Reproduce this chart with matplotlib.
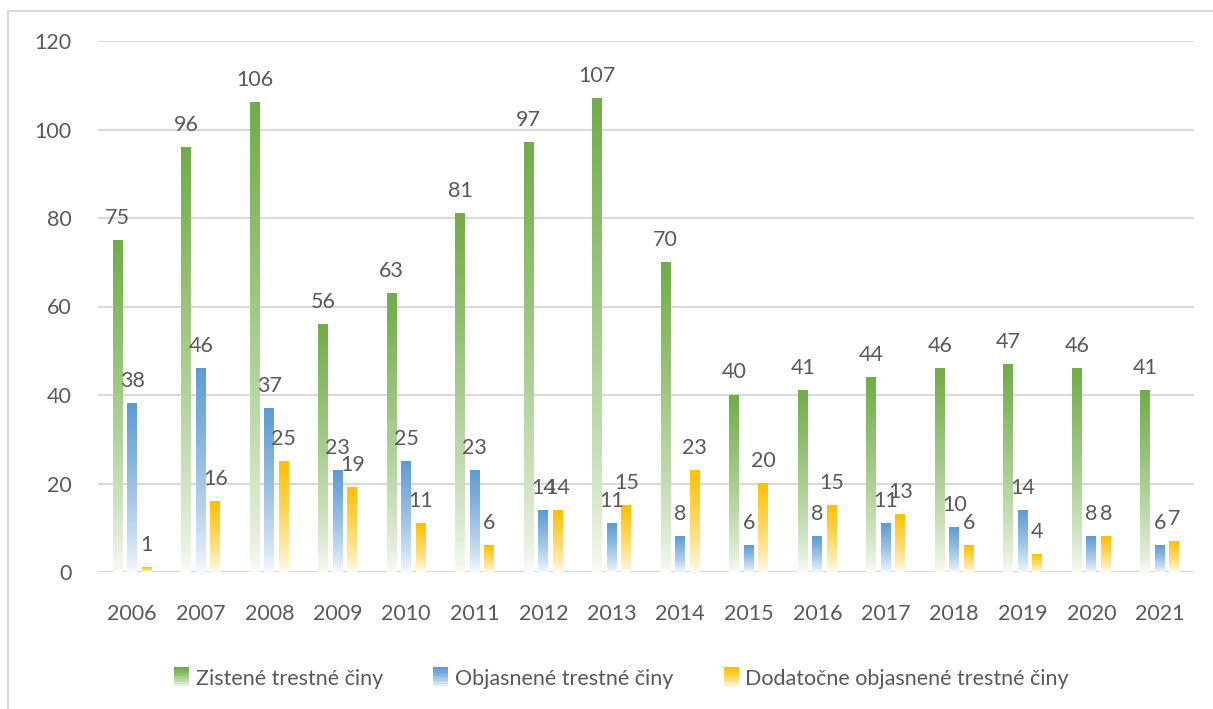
import numpy as np
import matplotlib
matplotlib.use("Agg")
import matplotlib.pyplot as plt
from matplotlib.patches import Rectangle
from matplotlib.legend_handler import HandlerBase
from matplotlib.colors import to_rgb

years = [str(y) for y in range(2006, 2022)]
zistene = [75, 96, 106, 56, 63, 81, 97, 107, 70, 40, 41, 44, 46, 47, 46, 41]
objasnene = [38, 46, 37, 23, 25, 23, 14, 11, 8, 6, 8, 11, 10, 14, 8, 6]
dodatocne = [1, 16, 25, 19, 11, 6, 14, 15, 23, 20, 15, 13, 6, 4, 8, 7]
labels = ["Zistené trestné činy", "Objasnené trestné činy",
          "Dodatočne objasnené trestné činy"]
colors = ["#70AD47", "#5B9BD5", "#FFC000"]

plt.rcParams['font.family'] = ['Lato', 'DejaVu Sans']
TXT = "#595959"
W, H = 1213, 709
FS = 15.5


def grad_rgba(color, n=256):
    c = np.array(to_rgb(color))
    t = np.linspace(0, 1, n)
    a = np.clip(t, 0, 1) ** 0.75
    a = 0.04 + 0.96 * a
    rgb = (1 - a)[:, None] * np.ones(3) + a[:, None] * c
    return rgb[:, None, :]


class GradHandler(HandlerBase):
    def __init__(self, color):
        super().__init__()
        self.color = color

    def create_artists(self, legend, orig_handle, xdescent, ydescent,
                       width, height, fontsize, trans):
        arts = []
        n = 12
        g = grad_rgba(self.color, n)
        w = height * 1.0
        x0 = -xdescent + (width - w)
        y0 = -ydescent - height * 0.15
        hh = height * 1.3
        for i in range(n):
            r = Rectangle((x0, y0 + hh * i / n), w, hh / n + 0.3,
                          facecolor=g[i, 0], edgecolor='none', transform=trans)
            arts.append(r)
        return arts


fig = plt.figure(figsize=(W / 100, H / 100), dpi=100)
# outer frame
fig.patches.append(Rectangle((8 / W, -0.1), 1.2, (709 - 11) / H + 0.1,
                             transform=fig.transFigure, fill=False,
                             edgecolor="#d9d9d9", linewidth=1.5))

ax = fig.add_axes([98 / W, (709 - 572) / H, (1194 - 98) / W, (572 - 41) / H])
x = np.arange(len(years))
bw = 0.14
step = 0.212
for k, (vals, col) in enumerate(zip([zistene, objasnene, dodatocne], colors)):
    g = grad_rgba(col)
    for xi, v in zip(x, vals):
        xc = xi + (k - 1) * step
        ax.imshow(g, extent=[xc - bw / 2, xc + bw / 2, 0, v], aspect='auto',
                  origin='lower', zorder=3, interpolation='bilinear')
        ax.annotate(str(v), (xc, v), xytext=(0, 9), textcoords="offset points",
                    ha='center', va='bottom', fontsize=FS, color=TXT, zorder=4)

ax.set_xlim(-0.5, len(years) - 0.5)
ax.set_ylim(0, 120)
ax.set_yticks(range(0, 121, 20))
ax.set_xticks(x)
ax.set_xticklabels(years)
ax.grid(axis='y', color="#d9d9d9", linewidth=1.5, zorder=0)
ax.set_axisbelow(True)
for s in ax.spines.values():
    s.set_visible(False)
ax.axhline(0, color="#d9d9d9", linewidth=2, zorder=2)
ax.tick_params(axis='both', length=0, labelsize=FS, labelcolor=TXT)
ax.tick_params(axis='y', pad=19)
ax.tick_params(axis='x', pad=23)

handles = [Rectangle((0, 0), 1, 1) for _ in colors]
hmap = {h: GradHandler(c) for h, c in zip(handles, colors)}
fig.legend(handles, labels, handler_map=hmap, loc='center',
           bbox_to_anchor=(621 / W, 1 - 679 / H), ncol=3, frameon=False,
           fontsize=FS, labelcolor=TXT, handlelength=0.75, handletextpad=0.3,
           columnspacing=2.3)

fig.savefig("out.png", dpi=100)
